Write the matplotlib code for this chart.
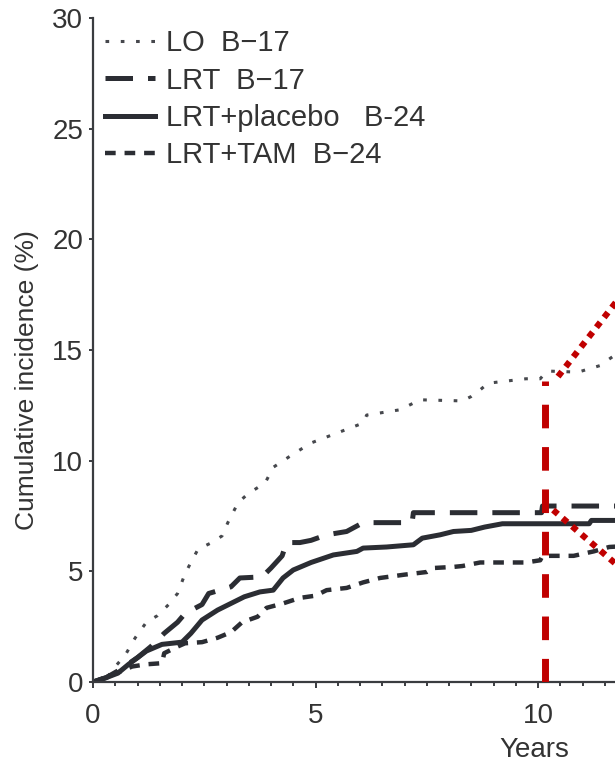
import matplotlib
matplotlib.use("Agg")
import matplotlib.pyplot as plt
from matplotlib.ticker import MultipleLocator

plt.rcParams['font.family'] = ['Liberation Sans', 'DejaVu Sans']

# Cumulative incidence (%) curves: time (years) and value; repeated times mark jumps
lo_t = [0, 0.35, 0.5, 0.72, 0.95, 1.2, 1.45, 1.7, 1.9, 2.07, 2.2, 2.36, 2.67, 2.9,
        3.03, 3.26, 3.48, 3.87, 4.05, 4.5, 4.9, 5.55, 6.07, 6.15, 6.9, 7.35, 8.3,
        8.5, 8.7, 8.88, 9.73, 10.05, 10.2, 10.9, 11.15, 11.4, 11.57, 11.75, 12.5]
lo_v = [0, 0.3, 0.7, 1.2, 2.0, 2.7, 3.0, 3.5, 4.0, 4.9, 5.4, 6.0, 6.3, 6.6,
        7.2, 8.1, 8.5, 9.0, 9.7, 10.3, 10.8, 11.3, 11.7, 12.06, 12.3, 12.75, 12.7,
        12.9, 13.2, 13.5, 13.7, 13.7, 14.05, 14.0, 14.15, 14.3, 14.55, 14.8, 15.0]

lrt17_t = [0, 0.3, 0.56, 1.0, 1.3, 1.6, 1.9, 2.07, 2.45, 2.6, 3.1, 3.3, 3.8, 4.0,
           4.25, 4.35, 4.65, 4.9, 5.25, 5.7, 6.07, 7.17, 7.2, 10.08, 10.1, 12.5]
lrt17_v = [0, 0.2, 0.5, 1.1, 1.6, 2.2, 2.7, 3.1, 3.5, 4.0, 4.3, 4.7, 4.75, 5.15,
           5.7, 6.3, 6.3, 6.4, 6.65, 6.8, 7.2, 7.2, 7.65, 7.65, 7.95, 7.95]

plac_t = [0, 0.3, 0.56, 0.8, 1.0, 1.2, 1.55, 2.0, 2.2, 2.45, 2.8, 3.1, 3.4, 3.75,
          4.05, 4.27, 4.5, 4.9, 5.4, 5.93, 6.07, 6.6, 7.2, 7.4, 7.8, 8.1, 8.5, 8.8,
          9.2, 11.15, 11.2, 12.5]
plac_v = [0, 0.2, 0.4, 0.8, 1.1, 1.4, 1.7, 1.8, 2.2, 2.8, 3.25, 3.55, 3.85, 4.07,
          4.15, 4.7, 5.06, 5.4, 5.74, 5.9, 6.05, 6.1, 6.2, 6.5, 6.65, 6.8, 6.85, 7.0,
          7.15, 7.15, 7.3, 7.3]

tam_t = [0, 0.4, 0.88, 1.2, 1.55, 1.6, 1.9, 2.07, 2.45, 2.8, 3.1, 3.35, 3.7, 3.9,
         4.27, 4.65, 5.0, 5.25, 5.7, 6.07, 6.45, 7.0, 7.5, 7.65, 8.1, 8.3, 8.7,
         9.73, 10.05, 10.1, 10.8, 11.25, 11.6, 12.5]
tam_v = [0, 0.3, 0.7, 0.8, 0.85, 1.3, 1.6, 1.75, 1.8, 2.0, 2.25, 2.7, 2.95, 3.35,
         3.55, 3.8, 3.9, 4.15, 4.25, 4.5, 4.7, 4.85, 4.97, 5.15, 5.2, 5.24, 5.4,
         5.4, 5.5, 5.7, 5.7, 5.9, 6.1, 6.2]

labels = ["LO  B\u221217", "LRT  B\u221217", "LRT+placebo   B-24", "LRT+TAM  B\u221224"]

# Red highlight overlay at 10 years
mark_x = [10.15, 10.15]
mark_y = [0, 13.6]
up_x = [10.45, 12.0]
up_y = [13.8, 17.8]
down_x = [10.34, 12.0]
down_y = [7.77, 4.9]

ink = "#2b2d33"
red = "#c00000"
txt = "#333333"

fig = plt.figure(figsize=(6.15, 7.65), dpi=100)
ax = fig.add_axes([93 / 615, 83 / 765, 522 / 615, 664 / 765])

ax.plot(lo_t, lo_v, color="#46484d", lw=2.2, linestyle=(0, (1.2, 3.8)),
        label=labels[0])
ax.plot(lrt17_t, lrt17_v, color=ink, lw=3.6, linestyle=(0, (5.5, 3.0)),
        label=labels[1])
ax.plot(plac_t, plac_v, color=ink, lw=3.6, linestyle="-", label=labels[2])
ax.plot(tam_t, tam_v, color=ink, lw=3.2, linestyle=(0, (2.4, 2.0)),
        label=labels[3])

ax.plot(mark_x, mark_y, color=red, lw=5, linestyle=(0, (3.4, 2.7)), zorder=5)
ax.plot(up_x, up_y, color=red, lw=4.5, linestyle=(0, (1, 1)), zorder=5)
ax.plot(down_x, down_y, color=red, lw=4.5, linestyle=(0, (1, 1)), zorder=5)

ax.set_xlim(0, 522 / 44.5)
ax.set_ylim(0, 30)

for s in ("top", "right"):
    ax.spines[s].set_visible(False)
for s in ("left", "bottom"):
    ax.spines[s].set_color("#3a3c40")
    ax.spines[s].set_linewidth(1.6)

ax.xaxis.set_major_locator(MultipleLocator(5))
ax.xaxis.set_minor_locator(MultipleLocator(0.5))
ax.yaxis.set_major_locator(MultipleLocator(5))
ax.tick_params(axis="both", which="both", direction="out", color="#3a3c40",
               width=1.4, labelsize=20, labelcolor=txt)
ax.tick_params(axis="x", which="major", length=4, pad=11)
ax.tick_params(axis="x", which="minor", length=3)
ax.tick_params(axis="y", which="major", length=3, pad=4)

ax.set_ylabel("Cumulative incidence (%)", fontsize=19, color=txt)
ax.yaxis.set_label_coords(-0.103, 0.455)
ax.set_xlabel("Years", fontsize=20, color=txt)
ax.xaxis.set_label_coords(0.845, -0.083)

leg = ax.legend(loc="upper left", bbox_to_anchor=(12 / 522, 0.983), frameon=False,
                fontsize=21, handlelength=1.71, handletextpad=0.38,
                labelspacing=0.32, borderaxespad=0, borderpad=0)
for t in leg.get_texts():
    t.set_color(txt)

fig.savefig("out.png", dpi=100)
